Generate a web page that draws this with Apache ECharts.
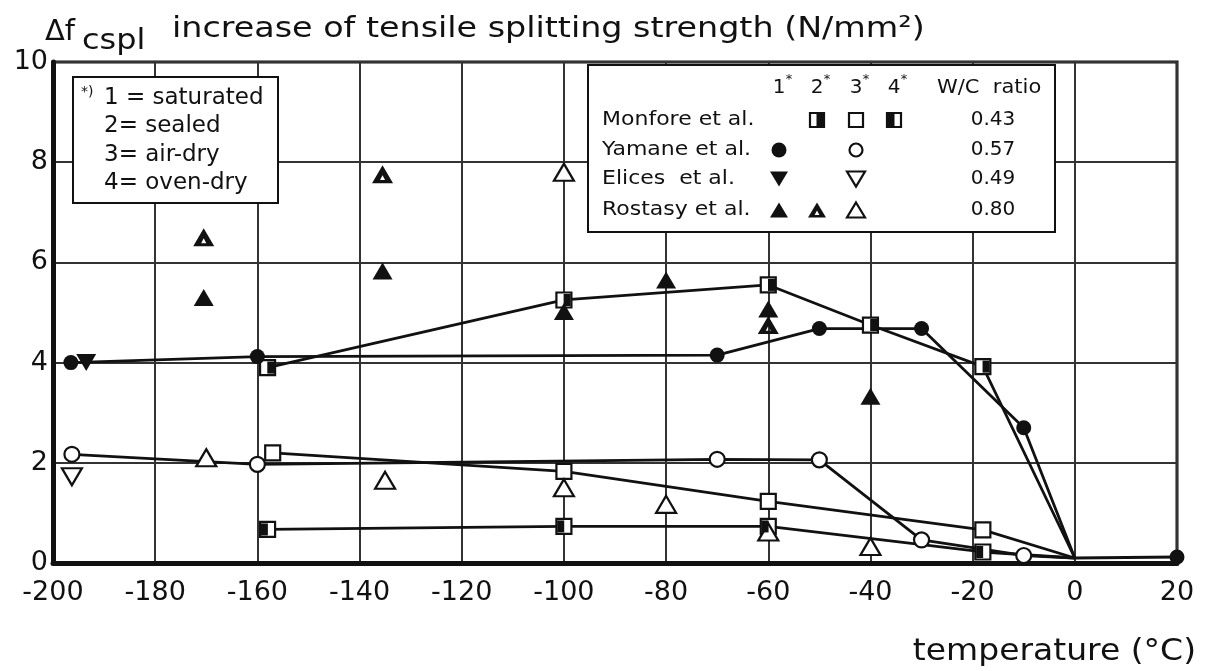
<!DOCTYPE html>
<html>
<head>
<meta charset="utf-8">
<script src="https://cdn.jsdelivr.net/npm/echarts@6/dist/echarts.min.js"></script>
<style>
  html, body { margin: 0; padding: 0; background: #fff; }
  #chart { width: 1205px; height: 671px; }
</style>
</head>
<body>
<div id="chart"></div>
<script>
// Axis ranges: temperature (°C) and strength increase (N/mm²)
const xMin = -200, xMax = 20, xStep = 20;
const yMin = 0, yMax = 10, yStep = 2;

// Point where the measured curves meet at 0 °C
const meetPoint = [0, 0.1];

// Monfore et al. (W/C 0.43)
const monforeSealed  = [[-158, 3.9], [-100, 5.25], [-60, 5.55], [-40, 4.75], [-18, 3.92]];
const monforeAirDry  = [[-157, 2.2], [-100, 1.83], [-60, 1.23], [-18, 0.66]];
const monforeOvenDry = [[-158, 0.67], [-100, 0.73], [-60, 0.73], [-18, 0.22]];

// Yamane et al. (W/C 0.57)
const yamaneSaturated      = [[-196.5, 4.0], [-160, 4.12], [-70, 4.15], [-50, 4.68], [-30, 4.68], [-10, 2.7]];
const yamaneSaturatedAbove = [[20, 0.12]];
const yamaneAirDry         = [[-196.3, 2.17], [-160, 1.97], [-70, 2.07], [-50, 2.06], [-30, 0.46], [-10, 0.15]];

// Elices et al. (W/C 0.49)
const elicesSaturated = [[-193.5, 4.0]];
const elicesAirDry    = [[-196.3, 1.72]];

// Rostasy et al. (W/C 0.80)
const rostasySaturated = [[-170.5, 5.3], [-135.5, 5.83], [-100, 5.02], [-80, 5.65], [-60, 5.07], [-40, 3.33]];
const rostasySealed    = [[-170.5, 6.5], [-135.5, 7.76], [-60, 4.75]];
const rostasyAirDry    = [[-100, 7.8], [-170, 2.1], [-135, 1.65], [-100, 1.5], [-80, 1.17], [-60, 0.62], [-40, 0.33]];

// Legend table rows
const legendNames  = ['Monfore et al.', 'Yamane et al.', 'Elices  et al.', 'Rostasy et al.'];
const legendRatios = ['0.43', '0.57', '0.49', '0.80'];
const storageNotes = ['1 = saturated', '2= sealed', '3= air-dry', '4= oven-dry'];

const INK = '#111';
const FONT = 'DejaVu Sans';
const TRI = [20, 17];
const halfTrianglePath = 'path://M5,0L10,9L0,9Z M5,5L3.8,7.4L6.2,7.4Z';

function curve(data) {
  return {
    type: 'line', data: data, symbol: 'none', showSymbol: false, silent: true,
    lineStyle: { color: INK, width: 2.8 }, z: 2, animation: false
  };
}
function marks(data, symbol, size, filled, extra) {
  return Object.assign({
    type: 'scatter', data: data, symbol: symbol, symbolSize: size, silent: true, z: 5,
    itemStyle: filled
      ? { color: INK, borderColor: INK, borderWidth: 0, opacity: 1 }
      : { color: '#fff', borderColor: INK, borderWidth: 2.2, opacity: 1 },
    animation: false
  }, extra || {});
}

const series = [
  curve(monforeSealed.concat([meetPoint])),
  curve(monforeAirDry.concat([meetPoint])),
  curve(monforeOvenDry.concat([meetPoint])),
  curve(yamaneSaturated.concat([meetPoint], yamaneSaturatedAbove)),
  curve(yamaneAirDry.concat([meetPoint])),

  // Monfore: sealed (right half black), air-dry (open), oven-dry (left half black)
  marks(monforeSealed, 'rect', 15, false),
  marks(monforeSealed, 'rect', [7, 12], true, { symbolOffset: [3.2, 0], z: 6 }),
  marks(monforeAirDry, 'rect', 15, false),
  marks(monforeOvenDry, 'rect', 15, false),
  marks(monforeOvenDry, 'rect', [7, 12], true, { symbolOffset: [-3.2, 0], z: 6 }),

  // Yamane: saturated (filled), air-dry (open)
  marks(yamaneSaturated.concat(yamaneSaturatedAbove), 'circle', 15, true),
  marks(yamaneAirDry, 'circle', 15, false),

  // Elices: inverted triangles
  marks(elicesSaturated, 'triangle', TRI, true, { symbolRotate: 180 }),
  marks(elicesAirDry, 'triangle', TRI, false, { symbolRotate: 180 }),

  // Rostasy: saturated, sealed, air-dry triangles
  marks(rostasySaturated, 'triangle', TRI, true),
  marks(rostasySealed, halfTrianglePath, [21, 18], true),
  marks(rostasyAirDry, 'triangle', TRI, false)
];

// ---- legend glyphs drawn as graphic shapes ----
function glyph(kind, cx, cy) {
  const s = 14, h = s / 2;
  const out = [];
  const stroke = { fill: '#fff', stroke: INK, lineWidth: 2.2 };
  if (kind === 'sqOpen' || kind === 'sqRight' || kind === 'sqLeft') {
    out.push({ type: 'rect', shape: { x: cx - h, y: cy - h, width: s, height: s }, style: stroke });
    if (kind === 'sqRight') out.push({ type: 'rect', shape: { x: cx - 0.5, y: cy - 6, width: 7, height: 12 }, style: { fill: INK } });
    if (kind === 'sqLeft') out.push({ type: 'rect', shape: { x: cx - 6.5, y: cy - 6, width: 7, height: 12 }, style: { fill: INK } });
  } else if (kind === 'dot') {
    out.push({ type: 'circle', shape: { cx: cx, cy: cy, r: 7.5 }, style: { fill: INK } });
  } else if (kind === 'ring') {
    out.push({ type: 'circle', shape: { cx: cx, cy: cy, r: 6.5 }, style: stroke });
  } else if (kind === 'triUp' || kind === 'triUpOpen' || kind === 'triHalf') {
    const pts = [[cx, cy - 7.5], [cx + 9, cy + 7.5], [cx - 9, cy + 7.5]];
    out.push({ type: 'polygon', shape: { points: pts }, style: kind === 'triUpOpen' ? stroke : { fill: INK } });
    if (kind === 'triHalf') out.push({ type: 'polygon', shape: { points: [[cx, cy + 0.5], [cx + 2.4, cy + 5], [cx - 2.4, cy + 5]] }, style: { fill: '#fff' } });
  } else if (kind === 'triDown' || kind === 'triDownOpen') {
    const pts = [[cx - 9, cy - 7.5], [cx + 9, cy - 7.5], [cx, cy + 7.5]];
    out.push({ type: 'polygon', shape: { points: pts }, style: kind === 'triDownOpen' ? stroke : { fill: INK } });
  }
  return out.map(e => Object.assign(e, { z: 110, silent: true }));
}

function txt(text, x, y, size, style, scaleX) {
  return {
    type: 'text', x: x, y: y, z: 110, silent: true, scaleX: scaleX || 1,
    style: Object.assign({ text: text, font: size + 'px "' + FONT + '"', fill: INK, verticalAlign: 'middle', align: 'left' }, style || {})
  };
}

const graphics = [];

// Axis title and unit label
graphics.push(txt('Δf', 45, 32, 29));
graphics.push(txt('cspl', 82, 41, 29, null, 1.1));
graphics.push(txt('increase of tensile splitting strength (N/mm²)', 172, 29, 29, null, 1.15));
graphics.push(txt('temperature (°C)', 1196, 652, 30, { align: 'right' }, 1.1));

// Storage condition key
graphics.push({ type: 'rect', shape: { x: 73, y: 77, width: 205, height: 126 }, style: { fill: '#fff', stroke: INK, lineWidth: 2 }, z: 100, silent: true });
graphics.push(txt('*)', 81, 92, 14));
storageNotes.forEach((s, i) => graphics.push(txt(s, 104, 98 + i * 28.3, 23)));

// Data source key
graphics.push({ type: 'rect', shape: { x: 588, y: 65, width: 467, height: 167 }, style: { fill: '#fff', stroke: INK, lineWidth: 2 }, z: 100, silent: true });
const colX = [779, 817, 856, 894];
colX.forEach((x, i) => {
  graphics.push(txt(String(i + 1), x, 88, 20, { align: 'center' }));
  graphics.push(txt('*', x + 10, 80, 13, { align: 'center' }));
});
graphics.push(txt('W/C  ratio', 937, 88, 20, null, 1.05));
const rowY = [120, 150, 179, 210];
legendNames.forEach((n, i) => {
  graphics.push(txt(n, 602, rowY[i], 20, null, 1.1));
  graphics.push(txt(legendRatios[i], 993, rowY[i], 20, { align: 'center' }));
});
const legendGlyphs = [
  [null, 'sqRight', 'sqOpen', 'sqLeft'],
  ['dot', null, 'ring', null],
  ['triDown', null, 'triDownOpen', null],
  ['triUp', 'triHalf', 'triUpOpen', null]
];
legendGlyphs.forEach((row, r) => row.forEach((k, c) => {
  if (k) glyph(k, colX[c], rowY[r]).forEach(g => graphics.push(g));
}));

const chart = echarts.init(document.getElementById('chart'), null, { renderer: 'canvas' });
chart.setOption({
  animation: false,
  backgroundColor: '#fff',
  grid: { left: 53, right: 28, top: 62, bottom: 108, show: true, borderColor: INK, borderWidth: 3, backgroundColor: 'transparent' },
  xAxis: {
    type: 'value', min: xMin, max: xMax, interval: xStep,
    axisLine: { show: true, onZero: false, lineStyle: { color: INK, width: 5 } },
    axisTick: { show: false },
    splitLine: { show: true, lineStyle: { color: '#333', width: 2 } },
    axisLabel: { color: INK, fontSize: 27, fontFamily: FONT, margin: 16 }
  },
  yAxis: {
    type: 'value', min: yMin, max: yMax, interval: yStep,
    axisLine: { show: true, onZero: false, lineStyle: { color: INK, width: 5 } },
    axisTick: { show: false },
    splitLine: { show: true, lineStyle: { color: '#333', width: 2 } },
    axisLabel: { color: INK, fontSize: 27, fontFamily: FONT, margin: 5 }
  },
  graphic: graphics,
  series: series
});
</script>
</body>
</html>
